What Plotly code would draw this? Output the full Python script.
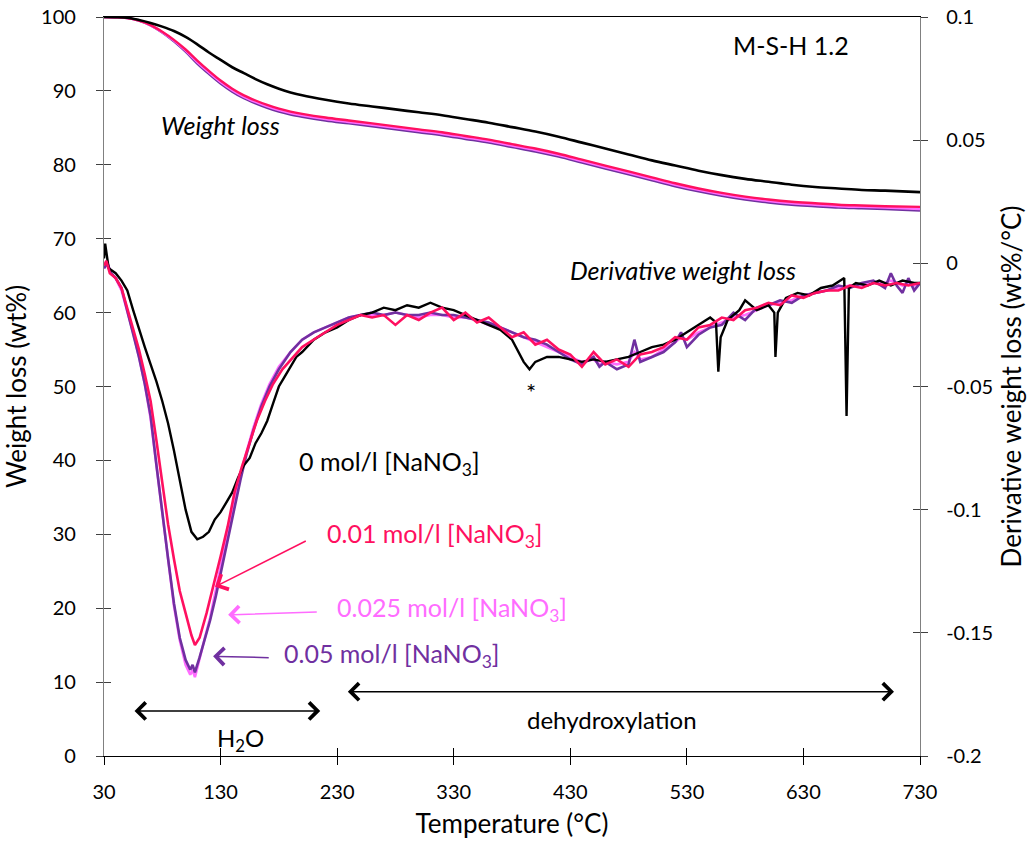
import plotly.graph_objects as go

# ---------------- data ----------------
temp_w = [30, 40, 50, 60, 70, 80, 90, 100, 110, 120, 130, 140, 150, 160, 170, 180, 190, 200,
          220, 240, 260, 280, 300, 320, 340, 360, 380, 400, 420, 440, 460, 480, 500, 520,
          540, 560, 580, 600, 620, 640, 660, 680, 700, 730]
w_0 = [100, 99.98, 99.9, 99.6, 99.2, 98.7, 98.1, 97.3, 96.3, 95.2, 94.2, 93.2, 92.4, 91.6, 90.9,
       90.3, 89.8, 89.4, 88.8, 88.3, 87.9, 87.5, 87.1, 86.7, 86.2, 85.7, 85.1, 84.5, 83.8, 83.0,
       82.2, 81.4, 80.6, 79.9, 79.2, 78.6, 78.1, 77.7, 77.3, 77.0, 76.8, 76.6, 76.5, 76.3]
w_001 = [100, 99.97, 99.85, 99.5, 98.9, 98.0, 96.9, 95.6, 94.1, 92.7, 91.4, 90.3, 89.4, 88.7,
         88.1, 87.6, 87.2, 86.9, 86.4, 86.0, 85.6, 85.2, 84.8, 84.4, 83.9, 83.4, 82.8, 82.2,
         81.5, 80.7, 79.9, 79.1, 78.3, 77.5, 76.8, 76.2, 75.7, 75.3, 75.0, 74.8, 74.6, 74.5,
         74.4, 74.3]
w_0025 = [100, 99.97, 99.85, 99.5, 98.87, 97.95, 96.8, 95.45, 93.9, 92.5, 91.2, 90.1, 89.2,
          88.5, 87.9, 87.4, 87.0, 86.7, 86.2, 85.8, 85.4, 85.0, 84.6, 84.2, 83.7, 83.2, 82.6,
          82.0, 81.3, 80.5, 79.7, 78.9, 78.1, 77.3, 76.6, 76.0, 75.5, 75.1, 74.8, 74.6, 74.4,
          74.3, 74.2, 74.0]
w_005 = [100, 99.97, 99.85, 99.5, 98.85, 97.9, 96.7, 95.3, 93.7, 92.3, 91.0, 89.9, 89.0, 88.3,
         87.7, 87.2, 86.8, 86.5, 86.0, 85.6, 85.2, 84.8, 84.4, 84.0, 83.5, 83.0, 82.4, 81.8,
         81.1, 80.3, 79.5, 78.7, 77.9, 77.1, 76.4, 75.8, 75.3, 74.9, 74.6, 74.4, 74.2, 74.1,
         74.0, 73.8]

temp_d0 = [30, 31, 34, 40, 45, 50, 55, 60, 65, 70, 75, 80, 85, 90, 95, 100, 105, 110, 115, 120,
           125, 130, 135, 140, 145, 150, 155, 160, 165, 170, 175, 180, 185, 190, 195, 200, 210,
           220, 230, 240, 250, 260, 270, 280, 290, 300, 310, 320, 330, 340, 350, 360, 370, 380,
           390, 395, 400, 410, 420, 430, 440, 450, 460, 470, 480, 490, 500, 510, 520, 530, 540,
           550, 555, 557, 559, 565, 575, 580, 590, 600, 605, 606, 608, 615, 625, 635, 645, 655,
           665, 667, 669, 675, 685, 695, 705, 715, 725, 730]
d_0 = [0.002, 0.008, -0.002, -0.004, -0.007, -0.011, -0.019, -0.027, -0.034, -0.041, -0.048,
       -0.056, -0.065, -0.076, -0.088, -0.100, -0.109, -0.112, -0.111, -0.109, -0.104, -0.101,
       -0.097, -0.093, -0.087, -0.082, -0.079, -0.073, -0.069, -0.064, -0.057, -0.050, -0.046,
       -0.042, -0.038, -0.036, -0.031, -0.028, -0.026, -0.023, -0.021, -0.020, -0.018, -0.019,
       -0.017, -0.018, -0.016, -0.018, -0.019, -0.021, -0.023, -0.025, -0.027, -0.031, -0.040,
       -0.043, -0.040, -0.038, -0.038, -0.039, -0.040, -0.039, -0.040, -0.039, -0.038, -0.036,
       -0.034, -0.033, -0.031, -0.028, -0.025, -0.022, -0.024, -0.044, -0.030, -0.023, -0.019,
       -0.015, -0.019, -0.017, -0.020, -0.038, -0.020, -0.014, -0.012, -0.013, -0.010, -0.009,
       -0.006, -0.062, -0.010, -0.008, -0.009, -0.007, -0.009, -0.007, -0.008, -0.008]

temp_d1 = [30, 32, 35, 40, 45, 50, 55, 60, 65, 70, 75, 80, 85, 90, 95, 100, 105, 108, 112, 118,
           124, 130, 136, 142, 148, 155, 161, 168, 175, 183, 192, 200, 213, 220, 230, 240, 250,
           260, 270, 280, 290, 300, 310, 320, 330, 340, 350, 360, 370, 380, 390, 400, 410, 420,
           430, 440, 450, 460, 470, 480, 490, 500, 510, 520, 530, 540, 550, 560, 570, 580, 590,
           600, 610, 620, 630, 640, 650, 660, 670, 680, 690, 700, 710, 720, 730]
d_001 = [-0.001, 0.001, -0.004, -0.006, -0.010, -0.018, -0.026, -0.035, -0.045, -0.056, -0.072,
         -0.090, -0.106, -0.120, -0.133, -0.142, -0.151, -0.155, -0.152, -0.142, -0.131, -0.119,
         -0.107, -0.093, -0.083, -0.073, -0.064, -0.056, -0.049, -0.043, -0.038, -0.034, -0.030,
         -0.028, -0.025, -0.023, -0.021, -0.022, -0.021, -0.025, -0.021, -0.023, -0.020, -0.018,
         -0.023, -0.020, -0.024, -0.022, -0.026, -0.030, -0.028, -0.033, -0.031, -0.035, -0.037,
         -0.042, -0.036, -0.041, -0.039, -0.042, -0.037, -0.036, -0.034, -0.030, -0.031, -0.026,
         -0.025, -0.022, -0.023, -0.019, -0.018, -0.016, -0.017, -0.013, -0.014, -0.012, -0.011,
         -0.011, -0.009, -0.010, -0.008, -0.009, -0.008, -0.009, -0.008]

temp_d2 = [30, 33, 36, 40, 45, 50, 55, 60, 65, 70, 75, 80, 85, 90, 95, 100, 104, 106, 108, 112,
           116, 121, 126, 130, 134, 138, 142, 147, 152, 158, 165, 172, 180, 190, 200, 210, 220,
           230, 240, 250, 260, 270, 280, 290, 300, 310, 320, 330, 340, 350, 360, 370, 380, 390,
           400, 410, 420, 430, 440, 450, 455, 460, 470, 480, 485, 490, 500, 510, 520, 525, 530,
           540, 550, 560, 570, 580, 590, 600, 610, 620, 630, 640, 650, 660, 670, 680, 690, 700,
           705, 710, 715, 720, 725, 730]
d_005 = [-0.002, 0.000, -0.004, -0.006, -0.010, -0.019, -0.028, -0.038, -0.049, -0.062, -0.082,
         -0.102, -0.120, -0.138, -0.152, -0.161, -0.165, -0.163, -0.166, -0.160, -0.153, -0.145,
         -0.135, -0.126, -0.116, -0.107, -0.098, -0.088, -0.078, -0.068, -0.058, -0.050, -0.043,
         -0.036, -0.031, -0.028, -0.026, -0.024, -0.022, -0.021, -0.020, -0.021, -0.020, -0.021,
         -0.021, -0.020, -0.021, -0.021, -0.022, -0.023, -0.024, -0.026, -0.028, -0.030, -0.031,
         -0.033, -0.036, -0.039, -0.041, -0.038, -0.042, -0.040, -0.043, -0.041, -0.031, -0.040,
         -0.038, -0.036, -0.032, -0.028, -0.034, -0.029, -0.026, -0.025, -0.020, -0.023, -0.018,
         -0.017, -0.015, -0.016, -0.013, -0.012, -0.011, -0.009, -0.010, -0.008, -0.007, -0.010,
         -0.004, -0.009, -0.012, -0.006, -0.011, -0.008]
d_0025 = [-0.002, 0.000, -0.004, -0.006, -0.011, -0.019, -0.028, -0.038, -0.049, -0.063, -0.082,
          -0.103, -0.121, -0.139, -0.153, -0.163, -0.167, -0.165, -0.168, -0.161, -0.153, -0.144,
          -0.133, -0.124, -0.114, -0.105, -0.096, -0.086, -0.077, -0.067, -0.057, -0.049, -0.042,
          -0.036, -0.031, -0.028, -0.026, -0.024, -0.022, -0.021, -0.021, -0.021, -0.020, -0.021,
          -0.022, -0.021, -0.021, -0.022, -0.022, -0.023, -0.025, -0.026, -0.028, -0.030, -0.032,
          -0.034, -0.036, -0.038, -0.040, -0.039, -0.041, -0.040, -0.041, -0.040, -0.036, -0.039,
          -0.038, -0.035, -0.032, -0.030, -0.031, -0.028, -0.026, -0.024, -0.022, -0.021, -0.019,
          -0.017, -0.016, -0.015, -0.013, -0.012, -0.011, -0.010, -0.009, -0.009, -0.008, -0.008,
          -0.007, -0.008, -0.009, -0.008, -0.009, -0.008]

x_ticks = [30, 130, 230, 330, 430, 530, 630, 730]
left_ticks = [0, 10, 20, 30, 40, 50, 60, 70, 80, 90, 100]
right_ticks = [-0.2, -0.15, -0.1, -0.05, 0, 0.05, 0.1]
right_labels = ["-0.2", "-0.15", "-0.1", "-0.05", "0", "0.05", "0.1"]

BLACK = "#000000"
RED = "#ff1060"
PINK = "#ff6cff"
PURPLE = "#7030a0"
FONT = "Lato"

fig = go.Figure()

# derivative curves (right axis)
fig.add_trace(go.Scatter(x=temp_d2, y=d_0025, yaxis="y2", mode="lines",
                         line=dict(color=PINK, width=2.6)))
fig.add_trace(go.Scatter(x=temp_d2, y=d_005, yaxis="y2", mode="lines",
                         line=dict(color=PURPLE, width=2.6)))
fig.add_trace(go.Scatter(x=temp_d0, y=d_0, yaxis="y2", mode="lines",
                         line=dict(color=BLACK, width=2.4)))
fig.add_trace(go.Scatter(x=temp_d1, y=d_001, yaxis="y2", mode="lines",
                         line=dict(color=RED, width=2.6)))

# weight curves (left axis)
fig.add_trace(go.Scatter(x=temp_w, y=w_005, mode="lines", line=dict(color=PURPLE, width=2.4, shape="spline")))
fig.add_trace(go.Scatter(x=temp_w, y=w_0025, mode="lines", line=dict(color=PINK, width=2.4, shape="spline")))
fig.add_trace(go.Scatter(x=temp_w, y=w_001, mode="lines", line=dict(color=RED, width=2.4, shape="spline")))
fig.add_trace(go.Scatter(x=temp_w, y=w_0, mode="lines", line=dict(color=BLACK, width=2.6, shape="spline")))

# helper traces so the inner-tick overlay axes get drawn
fig.add_trace(go.Scatter(x=[None], y=[None], xaxis="x2", yaxis="y3", hoverinfo="skip"))
fig.add_trace(go.Scatter(x=[None], y=[None], xaxis="x", yaxis="y4", hoverinfo="skip"))

tickfont = dict(family=FONT, size=20, color="#000000")
titlefont = dict(family=FONT, size=26, color="#000000")

fig.update_layout(
    width=1033, height=841,
    margin=dict(l=104, r=113, t=17, b=85),
    paper_bgcolor="white", plot_bgcolor="white",
    showlegend=False,
    font=dict(family=FONT, color="#000000"),
    xaxis=dict(range=[30, 730], tickvals=x_ticks, ticks="outside", ticklen=8, tickwidth=1,
               tickcolor="#000000", showline=True, linecolor="#000000", linewidth=1.3,
               mirror=True, showgrid=False, zeroline=False, tickfont=tickfont,
               ticklabelstandoff=10, automargin=False, ticklabeloverflow="allow",
               title=dict(text="Temperature (°C)", font=titlefont, standoff=12)),
    xaxis2=dict(range=[30, 730], overlaying="x", anchor="y", side="bottom", tickvals=x_ticks,
                ticks="inside", ticklen=8, tickwidth=1, tickcolor="#000000", showline=False,
                showgrid=False, zeroline=False, showticklabels=False, automargin=False),
    yaxis=dict(range=[0, 100], tickvals=left_ticks, ticks="outside", ticklen=7, tickwidth=1,
               tickcolor="#404040", showline=True, linecolor="#808080", linewidth=1.3,
               showgrid=False, zeroline=False, tickfont=tickfont, ticklabelstandoff=16,
               automargin=False, ticklabeloverflow="allow",
               title=dict(text="Weight loss (wt%)", font=titlefont, standoff=9)),
    yaxis3=dict(range=[0, 100], overlaying="y", anchor="x", side="left", tickvals=left_ticks,
                ticks="inside", ticklen=7, tickwidth=1, tickcolor="#404040", showline=False,
                showgrid=False, zeroline=False, showticklabels=False, automargin=False),
    yaxis2=dict(range=[-0.2, 0.1], overlaying="y", anchor="x", side="right",
                tickvals=right_ticks, ticktext=right_labels, ticks="outside", ticklen=7,
                tickwidth=1, tickcolor="#404040", showline=True, linecolor="#808080",
                linewidth=1.3, showgrid=False, zeroline=False, tickfont=tickfont,
                ticklabelstandoff=14, automargin=False, ticklabeloverflow="allow",
                title=dict(text="Derivative weight loss (wt%/°C)", font=titlefont, standoff=10)),
    yaxis4=dict(range=[-0.2, 0.1], overlaying="y", anchor="x", side="right",
                tickvals=right_ticks, ticks="inside", ticklen=7, tickwidth=1,
                tickcolor="#404040", showline=False, showgrid=False, zeroline=False,
                showticklabels=False, automargin=False),
)

def txt(x, y, text, color="#000000", size=25, italic=False, xanchor="center"):
    fig.add_annotation(x=x, y=y, xref="x", yref="y", text=text, showarrow=False,
                       xanchor=xanchor, yanchor="middle",
                       font=dict(family=FONT, size=size, color=color,
                                 style="italic" if italic else "normal"))

txt(619, 96.2, "M-S-H 1.2")
txt(129.6, 85.4, "Weight loss", italic=True)
txt(526.5, 65.8, "Derivative weight loss", italic=True)
txt(195.8, 39.6, "0 mol/l [NaNO<sub>3</sub>]", xanchor="left")
txt(219.8, 29.9, "0.01 mol/l [NaNO<sub>3</sub>]", color=RED, xanchor="left")
txt(228.4, 19.9, "0.025 mol/l [NaNO<sub>3</sub>]", color=PINK, xanchor="left")
txt(182.9, 13.7, "0.05 mol/l [NaNO<sub>3</sub>]", color=PURPLE, xanchor="left")
txt(396.7, 49.3, "*", size=24)
txt(146.8, 2.3, "H<sub>2</sub>O", size=24)
txt(465.5, 5.0, "dehydroxylation", size=24)

def arrow(x, y, ax, ay, color, both=False):
    fig.add_annotation(x=x, y=y, ax=ax, ay=ay, xref="x", yref="y", axref="x", ayref="y",
                       text="", showarrow=True, arrowhead=4, arrowsize=2.2, arrowwidth=1.5,
                       arrowcolor=color, arrowside="end+start" if both else "end",
                       startarrowhead=4, startarrowsize=2.2)

arrow(215.5, 6.1, 54.9, 6.1, "#000000", both=True)
arrow(707.7, 8.7, 237.9, 8.7, "#000000", both=True)
arrow(125.3, 22.9, 204.4, 29.2, RED)
arrow(136.5, 19.1, 213.8, 19.5, PINK)
arrow(123.6, 13.5, 172.6, 13.3, PURPLE)

# remove the default page margin so the figure sits at the window's top-left corner
fig.write_html("out.html", config={"displayModeBar": False},
               post_script="document.body.style.margin='0';")
